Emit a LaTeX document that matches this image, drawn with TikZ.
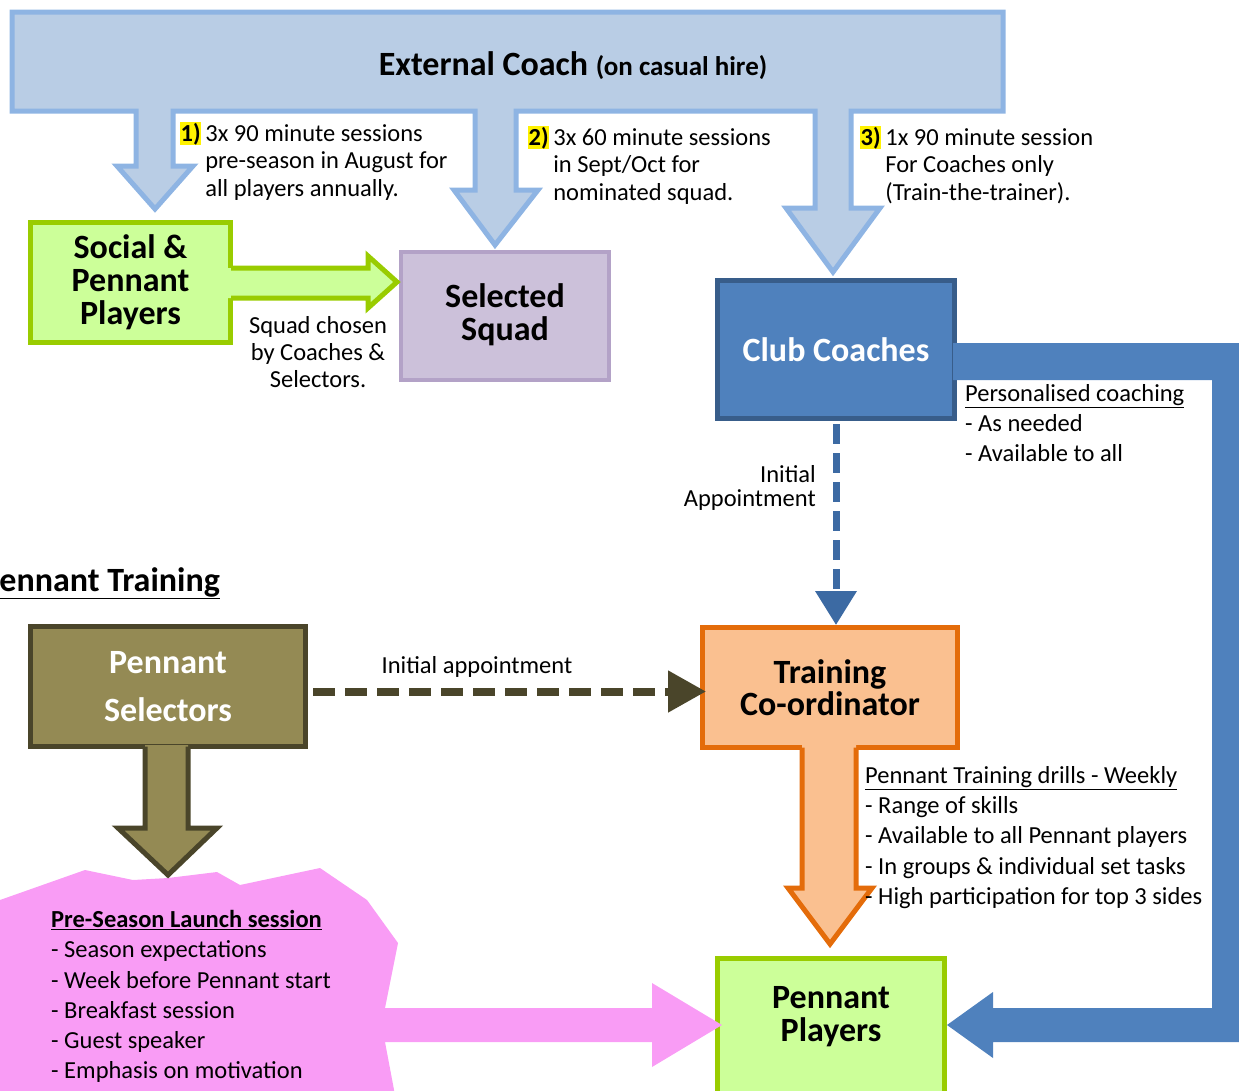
\documentclass[tikz,border=0pt]{standalone}
\usepackage{fontspec}
\setmainfont{Carlito}
\usetikzlibrary{arrows.meta}
\definecolor{extfill}{HTML}{B9CDE5}
\definecolor{extline}{HTML}{8EB4E3}
\definecolor{grnfill}{HTML}{CCFF99}
\definecolor{grnline}{HTML}{99CC00}
\definecolor{sqfill}{HTML}{CCC1DA}
\definecolor{sqline}{HTML}{B3A2C7}
\definecolor{ccfill}{HTML}{4F81BD}
\definecolor{ccline}{HTML}{385D8A}
\definecolor{dashblue}{HTML}{3C6AA3}
\definecolor{tcfill}{HTML}{FAC090}
\definecolor{tcline}{HTML}{E46C0A}
\definecolor{psfill}{HTML}{948A54}
\definecolor{psline}{HTML}{4A452A}
\definecolor{launchpink}{HTML}{F99CF5}
\newcommand{\hilite}[1]{{\setlength{\fboxsep}{0.5pt}\colorbox{yellow}{\textbf{#1}}}}

\begin{document}
\begin{tikzpicture}[x=1pt,y=-1pt,every node/.style={inner sep=0pt},
  txt/.style={font=\fontsize{24.5}{30.3}\selectfont,align=left},
  note/.style={font=\fontsize{24.5}{27.5}\selectfont,anchor=base west},
  lbl/.style={font=\fontsize{34}{33}\selectfont\bfseries,align=center},
  box/.style={draw,line width=5pt,lbl}]
  \useasboundingbox (0,0) rectangle (1239,1090);
  % External coach banner with three arrows
  \filldraw[fill=extfill,draw=extline,line width=5pt]
    (12,12) -- (1003,12) -- (1003,111) -- (851,111) -- (851,208) -- (880,208) -- (833,272)
    -- (786,208) -- (815,208) -- (815,111) -- (516,111) -- (516,190) -- (538,190) -- (495,245)
    -- (454,190) -- (475,190) -- (475,111) -- (173,111) -- (173,166) -- (193,166) -- (155,209)
    -- (117,166) -- (136,166) -- (136,111) -- (12,111) -- cycle;
  \node[anchor=base,font=\bfseries] (extc) at (573,75)
    {\fontsize{34}{36}\selectfont External Coach \fontsize{27}{30}\selectfont(on casual hire)};
  \node[note] (note1) at (180,141) {\begin{tabular}[t]{@{}l@{\,}l@{}}\hilite{1)} & 3x 90 minute sessions\\ & pre-season in August for\\ & all players annually.\end{tabular}};
  \node[note] (note2) at (528,145) {\begin{tabular}[t]{@{}l@{\,}l@{}}\hilite{2)} & 3x 60 minute sessions\\ & in Sept/Oct for\\ & nominated squad.\end{tabular}};
  \node[note] (note3) at (860,145) {\begin{tabular}[t]{@{}l@{\,}l@{}}\hilite{3)} & 1x 90 minute session\\ & For Coaches only\\ & (Train-the-trainer).\end{tabular}};

  % boxes
  \node[box,fill=grnfill,draw=grnline,minimum width=200pt,minimum height=120pt] (social) at (130.5,282.5) {Social \&\\Pennant\\Players};
  \node[box,fill=sqfill,draw=sqline,line width=4pt,minimum width=208pt,minimum height=128pt] (squad) at (505,316) {Selected\\Squad\\[-25pt]};
  \node[box,fill=ccfill,draw=ccline,text=white,minimum width=237pt,minimum height=138pt] (clubc) at (836,349.5) {Club Coaches};
  \node[box,fill=psfill,draw=psline,text=white,minimum width=275pt,minimum height=120pt] (selectors) at (168,686.5) {Pennant\\[15pt]Selectors};
  \node[box,fill=tcfill,draw=tcline,minimum width=255pt,minimum height=120pt] (trainc) at (830,687.5) {Training\\[-1pt]Co-ordinator};
  \node[box,fill=grnfill,draw=grnline,minimum width=227pt,minimum height=140pt] (players) at (831,1028) {};
  \node[lbl] (playerslbl) at (831,1017) {Pennant\\Players};

  % green arrow social -> squad
  \fill[grnfill] (228,268) -- (368,268) -- (368,256) -- (397,282) -- (368,308) -- (368,298) -- (228,298) -- cycle;
  \draw[grnline,line width=5pt] (231,268) -- (368,268) -- (368,256) -- (397,282) -- (368,308) -- (368,298) -- (231,298);
  \node[font=\fontsize{24.5}{27}\selectfont,anchor=base] (chosen) at (318,333)
    {\begin{tabular}[t]{@{}c@{}}Squad chosen\\by Coaches \&\\Selectors.\end{tabular}};

  % club coaches band round to pennant players
  \fill[ccfill] (953,343) -- (1245,343) -- (1245,1042) -- (993,1042) -- (993,1058) -- (947,1025)
    -- (993,992) -- (993,1008) -- (1212,1008) -- (1212,380) -- (953,380) -- cycle;
  \node[txt,anchor=north west] (persc) at (965,384) {\underline{Personalised coaching}\\- As needed\\- Available to all};

  % appointments
  \draw[dashblue,line width=7pt,dash pattern=on 20pt off 9pt,shorten <=3pt,-{Triangle[length=34pt,width=40pt]}]
    (clubc.south) -- (clubc.south |- trainc.north);
  \node[font=\fontsize{24.5}{24}\selectfont,anchor=base east] (initapp) at (816,482)
    {\begin{tabular}[t]{@{}r@{}}Initial\\Appointment\end{tabular}};
  \draw[psline,line width=8pt,dash pattern=on 22pt off 10pt,shorten <=5pt,shorten >=-6pt,-{Triangle[length=38pt,width=40pt]}]
    ([yshift=-5pt]selectors.east) -- ([yshift=-4pt]trainc.west);
  \node[font=\fontsize{24.5}{30}\selectfont,anchor=base] (initsel) at (477,673) {Initial appointment};
  \node[font=\fontsize{34}{36}\selectfont\bfseries,anchor=base east] (heading) at (220,591) {\underline{Pennant Training}};

  % selectors arrow down to launch session
  \fill[launchpink] (-5,900) -- (0,900) -- (85,870) -- (133,880) -- (168,878) -- (217,872) -- (240,885)
    -- (320,868) -- (367,900) -- (398,943) -- (385,1008) -- (652,1008) -- (652,983) -- (722,1025)
    -- (652,1067) -- (652,1042) -- (385,1042) -- (395,1095) -- (-5,1095) -- cycle;
  \fill[psfill] (145,745) -- (145,828) -- (118,828) -- (168,875) -- (217,828) -- (188,828) -- (188,745) -- cycle;
  \draw[psline,line width=5pt] (145,746.5) -- (145,828) -- (118,828) -- (168,875) -- (217,828) -- (188,828) -- (188,746.5);
  \node[txt,anchor=north west] (launch) at (51,910)
    {\textbf{\underline{Pre-Season Launch session}}\\- Season expectations\\- Week before Pennant start\\- Breakfast session\\- Guest speaker\\- Emphasis on motivation};

  % training drills arrow
  \fill[tcfill] (802,745) -- (802,888) -- (788,888) -- (830,944) -- (872,888) -- (856,888) -- (856,745) -- cycle;
  \draw[tcline,line width=5pt] (802,747.5) -- (802,888) -- (788,888) -- (830,944) -- (872,888) -- (856,888) -- (856,747.5);
  \node[txt,anchor=north west] (drills) at (865,766)
    {\underline{Pennant Training drills - Weekly}\\- Range of skills\\- Available to all Pennant players\\- In groups \& individual set tasks\\- High participation for top 3 sides};
\end{tikzpicture}
\end{document}
